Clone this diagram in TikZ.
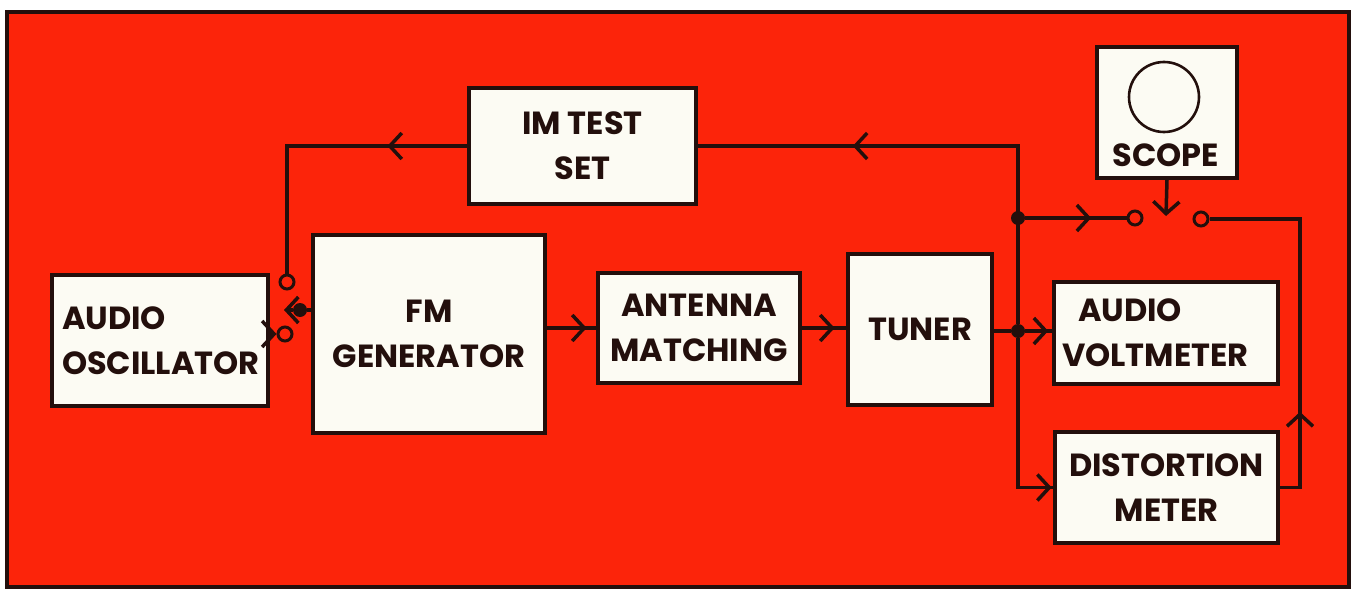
\documentclass[tikz,border=0pt]{standalone}
\usepackage{fontspec}
\setmainfont{Poppins}
\usetikzlibrary{arrows.meta,decorations.markings}
\definecolor{bgred}{RGB}{252,36,10}
\definecolor{ink}{RGB}{35,15,12}
\definecolor{paper}{RGB}{252,251,243}
\tikzset{
  box/.style={draw=ink, fill=paper, line width=3.2pt, inner sep=0pt,
    font=\fontsize{32}{45}\selectfont\bfseries, text=ink, align=center},
  lbl/.style={inner sep=0pt, font=\fontsize{32}{45}\selectfont\bfseries, text=ink},
  wire/.style={draw=ink, color=ink, line width=3.5pt},
  midarr/.style={postaction={decorate}, decoration={markings,
    mark=at position #1 with {\arrow{Straight Barb[length=12pt,width=26pt]}}}},
  tiparr/.style={-{Straight Barb[length=12pt,width=26pt]}},
  term/.style={circle, draw=ink, line width=3pt, fill=bgred, minimum size=14pt, inner sep=0pt},
  junc/.style={circle, fill=ink, minimum size=14pt, inner sep=0pt},
}
\begin{document}
\begin{tikzpicture}[x=1pt,y=-1pt]
\useasboundingbox (0,0) rectangle (1354,591);
\fill[white] (0,0) rectangle (1354,591);
\filldraw[fill=bgred, draw=ink, line width=4pt] (7,12) rectangle (1349,587);

% boxes
\node[box, minimum width=216pt, minimum height=131pt, text width=196pt, align=left] (osc) at (160,340.5) {AUDIO\\OSCILLATOR};
\node[box, minimum width=232pt, minimum height=198pt] (fm) at (429,334) {FM\\GENERATOR};
\node[box, minimum width=202pt, minimum height=110pt] (ant) at (699,328) {ANTENNA\\MATCHING};
\node[box, minimum width=144pt, minimum height=151pt] (tuner) at (920,329.5) {TUNER};
\node[box, minimum width=227pt, minimum height=116pt] (im) at (582.5,146) {IM TEST\\SET};
\node[box, minimum width=140pt, minimum height=131pt] (scope) at (1167,112.5) {};
\node[circle, draw=ink, line width=2.6pt, minimum size=70pt, inner sep=0pt] (screen) at (1164,97) {};
\node[lbl] (scopetext) at (1166,155) {SCOPE};
\node[box, minimum width=224pt, minimum height=102pt, text width=208pt, align=left] (avm) at (1166,333) {\hspace*{16pt}AUDIO\\VOLTMETER};
\node[box, minimum width=223pt, minimum height=111pt] (dist) at (1166.5,487.5) {DISTORTION\\METER};

% switch at oscillator / generator
\node[term] (uterm) at (287,282) {};
\node[term] (lterm) at (285,334) {};
\node[junc] (swd) at (300,310) {};
\coordinate (armtip) at (284,310);
\coordinate (ilc) at (287,146);

% switch at scope
\node[term] (sl) at (1135,218) {};
\node[term] (sr) at (1201,219) {};
\coordinate (sctip) at (1166,216);

% junctions and corners
\node[junc] (j1) at (1018,331) {};
\node[junc] (j2) at (1018,218) {};
\coordinate (tc) at (1018,146);
\coordinate (rc1) at (1300,487.5);
\coordinate (rc2) at (1300,219);

% connectors
\draw[wire, midarr=80pt] (im.west) -- (ilc) -- (uterm.north);
\draw[wire] (fm.west |- swd) -- (swd);
\draw[wire, tiparr] (swd) -- (armtip);
\draw[wire, tiparr] (osc.east |- lterm) -- (lterm.west);
\draw[wire, midarr=40pt] (fm.east |- ant.west) -- (ant.west);
\draw[wire, midarr=33pt] (ant.east) -- (tuner.west |- ant.east);
\draw[wire] (tuner.east |- j1) -- (j1);
\draw[wire, midarr=23pt] (j1) -- (avm.west |- j1);
\draw[wire, midarr=183pt] (j1) -- (j1 |- dist.west) -- (dist.west);
\draw[wire, midarr=343pt] (j1) -- (tc) -- (im.east);
\draw[wire, midarr=66pt] (j2) -- (sl.west);
\draw[wire, tiparr] (scope.south) -- (sctip);
\draw[wire, midarr=96pt] (dist.east) -- (rc1) -- (rc2) -- (sr.east);
\end{tikzpicture}
\end{document}
